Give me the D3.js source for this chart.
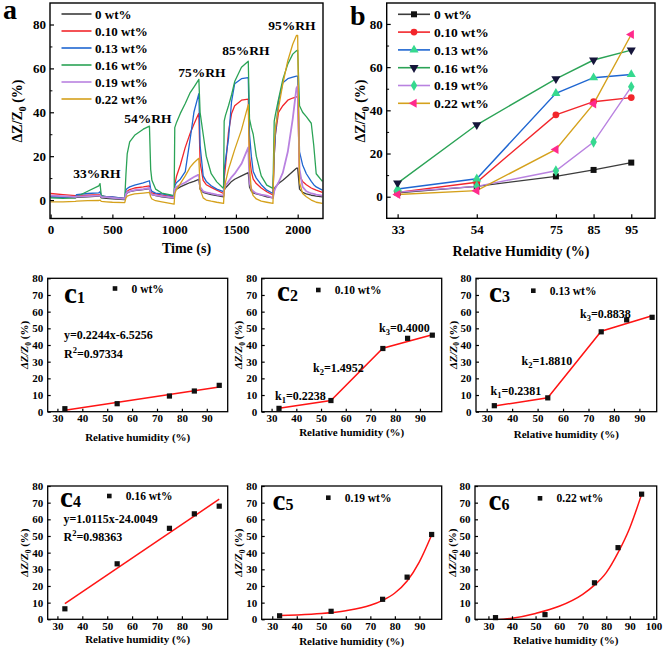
<!DOCTYPE html>
<html>
<head>
<meta charset="utf-8">
<script src="https://cdn.jsdelivr.net/npm/d3@7"></script>
<style>
  body { margin: 0; background: #fff; }
  svg text { font-family: "Liberation Serif", "Times New Roman", serif; font-weight: bold; fill: #000; }
</style>
</head>
<body>
<svg id="fig" width="666" height="648"></svg>
<script>
// ---------- data: panel a (time response) ----------
var timeS = [0,100,200,210,300,390,400,410,450,500,
  600,610,620,640,680,750,800,810,820,850,
  900,1000,1005,1020,1050,1090,1130,1160,1195,1200,
  1210,1235,1260,1300,1345,1400,1405,1415,1440,1465,
  1490,1545,1600,1610,1625,1640,1665,1705,1750,1800,
  1810,1820,1845,1880,1920,1960,1990,2000,2015,2040,
  2070,2110,2130,2150,2200];

var dz0 = [1.5,1.2,1.0,1.2,1.5,1.8,2.0,1.0,0.8,0.6,
  0.2,2.5,3.2,3.8,4.3,4.8,5.2,3.0,2.5,2.0,
  1.5,0.8,4.5,5.0,6.0,7.0,8.0,8.5,9.3,9.5,
  5.0,3.5,3.0,2.5,2.0,1.5,4.5,5.5,7.0,8.5,
  9.5,11.0,12.5,6.0,4.0,3.3,2.8,2.2,1.5,1.0,
  5.0,6.0,7.5,9.0,11.0,13.0,14.5,14.5,5.0,3.5,
  2.8,2.2,2.0,1.8,1.5];
var dz10 = [3.0,2.5,2.0,2.0,2.2,2.5,2.6,1.8,1.6,1.3,
  0.8,3.0,4.0,4.8,5.5,6.0,6.5,4.0,3.3,2.8,
  2.3,1.5,7.0,11.0,16.0,24.0,30.5,34.5,39.0,39.5,
  17.0,9.0,7.0,5.8,4.5,3.0,10.0,15.0,31.0,39.5,
  43.0,45.5,46.0,20.0,13.0,9.5,7.5,5.5,3.8,2.3,
  20.0,30.0,40.0,43.0,45.5,46.5,47.0,47.0,11.0,8.5,
  7.0,5.5,5.0,4.5,3.5];
var dz13 = [1.5,1.2,1.5,2.5,3.0,3.3,3.8,2.0,1.6,1.4,
  0.8,4.5,5.3,6.0,6.8,7.8,8.8,5.0,4.0,3.2,
  2.8,1.8,6.5,8.0,9.5,13.0,28.0,40.0,47.5,48.5,
  25.0,11.0,8.5,6.5,5.0,3.8,14.0,18.0,28.0,45.0,
  53.0,55.3,55.8,30.0,20.0,13.0,10.0,7.0,4.5,3.0,
  20.0,30.0,45.0,53.5,55.3,56.0,56.5,56.5,22.0,16.0,
  12.0,8.5,7.0,6.0,4.5];
var dz16 = [1.0,0.8,1.0,1.5,4.0,6.5,7.5,2.0,1.2,1.0,
  0.5,12.0,21.0,26.5,29.5,32.3,33.7,14.0,9.0,5.0,
  3.2,2.0,33.0,35.5,39.5,44.0,49.0,51.5,54.5,55.0,
  40.0,30.0,20.0,12.0,8.3,5.3,36.0,38.5,43.0,48.0,
  54.0,60.5,63.3,37.0,33.0,30.0,20.0,11.0,6.8,5.3,
  36.0,39.0,46.0,55.0,62.0,66.5,68.0,68.3,43.0,40.0,
  38.0,35.0,25.0,12.0,8.5];
var dz19 = [2.0,1.8,1.5,1.6,1.8,2.0,2.2,1.5,1.3,1.0,
  0.5,2.8,3.5,4.0,4.5,5.0,5.5,3.0,2.5,2.2,
  1.8,1.0,5.0,6.0,7.0,8.0,9.5,10.5,11.5,11.5,
  6.0,4.0,3.5,3.0,2.5,2.0,5.0,6.5,8.5,10.5,
  12.0,16.5,24.0,8.0,5.0,4.0,3.0,2.5,2.0,1.0,
  4.0,5.5,8.0,12.5,22.0,37.0,51.0,52.0,14.0,6.0,
  4.0,3.0,2.8,2.5,2.0];
var dz22 = [-0.8,-0.8,-0.6,-0.5,-0.3,-0.2,0.0,-0.6,-0.8,-1.0,
  -1.2,1.0,1.8,2.2,2.8,3.2,3.5,1.5,0.5,-0.3,
  -0.8,-1.8,3.0,5.0,7.5,11.0,15.0,17.0,18.8,19.0,
  5.0,1.0,0.0,-0.5,-1.0,-1.5,4.0,8.0,14.0,18.5,
  23.0,32.0,43.5,15.0,4.5,2.0,0.5,-0.5,-1.0,-1.5,
  25.0,33.0,42.0,53.0,63.5,71.0,75.0,75.0,8.0,3.0,
  1.5,0.0,-0.5,-1.0,-1.5];

var rhLabels = ["33%RH", "54%RH", "75%RH", "85%RH", "95%RH"];
var rhLabelT = [375, 788, 1225, 1581, 1953];
var rhLabelV = [10, 35, 56, 66, 77.4];

// ---------- data: panel b / c (response vs humidity) ----------
var seriesNames = ["0 wt%", "0.10 wt%", "0.13 wt%", "0.16 wt%", "0.19 wt%", "0.22 wt%"];
var rh = [33, 54, 75, 85, 95];
var s0  = [1.8, 4.8, 9.4, 12.4, 15.8];
var s10 = [2.0, 6.7, 37.9, 44.0, 45.9];
var s13 = [3.6, 8.3, 47.9, 55.1, 56.6];
var s16 = [6.3, 33.3, 54.6, 63.3, 67.9];
var s19 = [2.1, 4.8, 12.0, 25.3, 50.9];
var s22 = [1.0, 2.8, 21.9, 43.0, 75.1];

// fitted lines / curves as drawn in c1..c6
var fitLinX = [33, 95];
var fit0Y = [0.9, 14.8];
var fit16Y = [9.4, 72.1];
var fitSegX = [33, 54, 75, 95];
var fit10Y = [2.0, 6.7, 38.1, 46.1];
var fit13Y = [3.4, 8.4, 48.3, 57.5];
var fitExpX = [33, 40, 50, 60, 70, 75, 80, 85, 90, 95];
var fit19Y = [2.2, 2.6, 3.5, 5.2, 8.4, 11.4, 15.8, 23.0, 34.5, 50.6];
var fit22Y = [-0.4, 0.6, 3.5, 7.8, 15.0, 20.5, 28.0, 40.0, 55.0, 75.0];

var lineColors = ["#3c3c3c", "#f2262b", "#1f66d1", "#2ba356", "#b982e0", "#d5a11c"];
var markColors = ["#111", "#f2262b", "#36d98f", "#15153a", "#36d98f", "#ff2a8c"];
var markShapes = ["square", "circle", "up", "down", "diamond", "left"];

var svg = d3.select("#fig");
svg.append("rect").attr("width", 666).attr("height", 648).attr("fill", "#fff");

function sub(t, main, s, size) {
  t.append("tspan").text(main);
  t.append("tspan").text(s).style("font-size", (size * 0.68) + "px").attr("dy", size * 0.25);
}

function yLabel(x, y, size, italic) {
  var t = svg.append("text")
    .attr("transform", "translate(" + x + "," + y + ") rotate(-90)")
    .attr("text-anchor", "middle")
    .style("font-size", size + "px");
  t.append("tspan").text("ΔZ/Z").style("font-style", italic ? "italic" : "normal");
  t.append("tspan").text("0").style("font-size", (size * 0.68) + "px").attr("dy", size * 0.25);
  t.append("tspan").text(" (%)").attr("dy", -size * 0.25);
}

function axes(g, x, y, o) {
  var xr = x.range(), yr = y.range();
  var ax = g.append("g").attr("transform", "translate(0," + yr[0] + ")")
    .call(d3.axisBottom(x).tickValues(o.xMajor).tickSizeInner(-o.tick).tickSizeOuter(0)
      .tickPadding(o.xPad).tickFormat(d3.format("d")));
  ax.select(".domain").remove();
  ax.selectAll("line").attr("stroke-width", 1.2);
  ax.selectAll("text").style("font-size", o.font + "px");
  if (o.xMinor) {
    var mx = g.append("g").attr("transform", "translate(0," + yr[0] + ")")
      .call(d3.axisBottom(x).tickValues(o.xMinor).tickSizeInner(-o.tick * 0.6).tickSizeOuter(0).tickFormat(""));
    mx.select(".domain").remove();
  }
  var ay = g.append("g").attr("transform", "translate(" + xr[0] + ",0)")
    .call(d3.axisLeft(y).tickValues(o.yMajor).tickSizeInner(-o.tick).tickSizeOuter(0)
      .tickPadding(o.yPad).tickFormat(d3.format("d")));
  ay.select(".domain").remove();
  ay.selectAll("line").attr("stroke-width", 1.2);
  ay.selectAll("text").style("font-size", o.font + "px");
  if (o.yMinor) {
    var my = g.append("g").attr("transform", "translate(" + xr[0] + ",0)")
      .call(d3.axisLeft(y).tickValues(o.yMinor).tickSizeInner(-o.tick * 0.6).tickSizeOuter(0).tickFormat(""));
    my.select(".domain").remove();
  }
  g.append("rect").attr("x", xr[0]).attr("y", yr[1])
    .attr("width", xr[1] - xr[0]).attr("height", yr[0] - yr[1])
    .attr("fill", "none").attr("stroke", "#000").attr("stroke-width", o.frame);
}

function clip(id, x, y) {
  var xr = x.range(), yr = y.range();
  svg.append("clipPath").attr("id", id).append("rect")
    .attr("x", xr[0]).attr("y", yr[1]).attr("width", xr[1] - xr[0]).attr("height", yr[0] - yr[1]);
}

function symbolPath(shape, size) {
  var type = { square: d3.symbolSquare, circle: d3.symbolCircle, up: d3.symbolTriangle,
    down: d3.symbolTriangle, diamond: d3.symbolDiamond, left: d3.symbolTriangle }[shape];
  return d3.symbol().type(type).size(size)();
}
function symbolRot(shape) {
  return shape === "down" ? 180 : shape === "left" ? -90 : 0;
}

// ================= panel a =================
var xA = d3.scaleLinear().domain([-5, 2205]).range([50, 323]);
var yA = d3.scaleLinear().domain([-8.4, 89.8]).range([218.5, 3]);
clip("clipA", xA, yA);
var gA = svg.append("g");
var seriesA = [dz0, dz10, dz13, dz16, dz19, dz22];
seriesA.forEach(function(vals, i) {
  gA.append("path").datum(vals)
    .attr("clip-path", "url(#clipA)")
    .attr("fill", "none")
    .attr("stroke", lineColors[i])
    .attr("stroke-width", i === 4 ? 1.8 : 1.3)
    .attr("stroke-linejoin", "round")
    .attr("d", d3.line().x(function(d, j) { return xA(timeS[j]); }).y(function(d) { return yA(d); }));
});
axes(gA, xA, yA, { xMajor: [0, 500, 1000, 1500, 2000], xMinor: [250, 750, 1250, 1750],
  yMajor: [0, 20, 40, 60, 80], yMinor: [10, 30, 50, 70], tick: 4, xPad: 6, yPad: 4, font: 13, frame: 1.4 });

rhLabels.forEach(function(l, i) {
  gA.append("text").attr("x", xA(rhLabelT[i])).attr("y", yA(rhLabelV[i]))
    .attr("text-anchor", "middle").style("font-size", "13.5px").text(l);
});
seriesNames.forEach(function(n, i) {
  var yy = 14 + i * 17;
  gA.append("line").attr("x1", 61.5).attr("x2", 91.5).attr("y1", yy).attr("y2", yy)
    .attr("stroke", lineColors[i]).attr("stroke-width", 1.6);
  gA.append("text").attr("x", 95).attr("y", yy + 4.5).style("font-size", "13px").text(n);
});
svg.append("text").attr("x", 3).attr("y", 18.5).style("font-size", "28px").text("a");
yLabel(22, 111, 14, false);
svg.append("text").attr("x", 186.5).attr("y", 253).attr("text-anchor", "middle")
  .style("font-size", "14px").text("Time (s)");

// ================= panel b =================
var xB = d3.scaleLinear().domain([30.1, 101.3]).range([386.7, 655]);
var yB = d3.scaleLinear().domain([-10, 89.7]).range([218.3, 3]);
var gB = svg.append("g");
var seriesB = [s0, s10, s13, s16, s19, s22];
seriesB.forEach(function(vals, i) {
  gB.append("path").datum(vals)
    .attr("fill", "none").attr("stroke", lineColors[i]).attr("stroke-width", 1.4)
    .attr("d", d3.line().x(function(d, j) { return xB(rh[j]); }).y(function(d) { return yB(d); }));
});
seriesB.forEach(function(vals, i) {
  gB.selectAll(null).data(vals).enter().append("path")
    .attr("transform", function(d, j) {
      return "translate(" + xB(rh[j]) + "," + yB(d) + ") rotate(" + symbolRot(markShapes[i]) + ")";
    })
    .attr("d", symbolPath(markShapes[i], 36))
    .attr("fill", markColors[i]);
});
axes(gB, xB, yB, { xMajor: rh, yMajor: [0, 20, 40, 60, 80], yMinor: [10, 30, 50, 70],
  tick: 4, xPad: 6, yPad: 4, font: 13, frame: 1.4 });
seriesNames.forEach(function(n, i) {
  var yy = 14.3 + i * 17.8;
  gB.append("line").attr("x1", 398).attr("x2", 430).attr("y1", yy).attr("y2", yy)
    .attr("stroke", lineColors[i]).attr("stroke-width", 1.6);
  gB.append("path").attr("transform", "translate(414," + yy + ") rotate(" + symbolRot(markShapes[i]) + ")")
    .attr("d", symbolPath(markShapes[i], 36)).attr("fill", markColors[i]);
  gB.append("text").attr("x", 434).attr("y", yy + 4.8).style("font-size", "13.5px").text(n);
});
svg.append("text").attr("x", 350).attr("y", 25).style("font-size", "28px").text("b");
yLabel(365, 111, 14, false);
svg.append("text").attr("x", 521).attr("y", 256).attr("text-anchor", "middle")
  .style("font-size", "14px").text("Relative Humidity (%)");

// ================= panels c1..c6 =================
var cPanels = [
  { tag: "1", vals: s0,  fitX: fitLinX, fitY: fit0Y,  curve: false, left: 47.7,  right: 227.7, top: 278.3, bottom: 411.7,
    xDom: [26.1, 98.4], xTicks: [30, 40, 50, 60, 70, 80, 90], lab: [64, 303], leg: [115, 288.5], xl: 440.5 },
  { tag: "2", vals: s10, fitX: fitSegX, fitY: fit10Y, curve: false, left: 261.7, right: 441.7, top: 278.3, bottom: 411.7,
    xDom: [26.0, 98.8], xTicks: [30, 40, 50, 60, 70, 80, 90], lab: [277, 301], leg: [318.3, 290], xl: 436 },
  { tag: "3", vals: s13, fitX: fitSegX, fitY: fit13Y, curve: false, left: 476, right: 656.7, top: 278.3, bottom: 411.7,
    xDom: [25.8, 96.8], xTicks: [30, 40, 50, 60, 70, 80, 90], lab: [489, 302], leg: [533.3, 290.7], xl: 438 },
  { tag: "4", vals: s16, fitX: fitLinX, fitY: fit16Y, curve: false, left: 47.7, right: 227.7, top: 486, bottom: 619.3,
    xDom: [26.1, 98.4], xTicks: [30, 40, 50, 60, 70, 80, 90], lab: [60, 507], leg: [109.3, 496], xl: 643 },
  { tag: "5", vals: s19, fitX: fitExpX, fitY: fit19Y, curve: true, left: 261.7, right: 441.7, top: 486, bottom: 619.3,
    xDom: [25.7, 99.1], xTicks: [30, 40, 50, 60, 70, 80, 90], lab: [272.5, 509.5], leg: [328.3, 497.7], xl: 644.5 },
  { tag: "6", vals: s22, fitX: fitExpX, fitY: fit22Y, curve: true, left: 475, right: 656.7, top: 486, bottom: 619.3,
    xDom: [24.3, 101.4], xTicks: [30, 40, 50, 60, 70, 80, 90, 100], lab: [488.5, 509.5], leg: [540, 498.3], xl: 644 }
];

cPanels.forEach(function(p, k) {
  var x = d3.scaleLinear().domain(p.xDom).range([p.left, p.right]);
  var y = d3.scaleLinear().domain([0, 80]).range([p.bottom, p.top]);
  var g = svg.append("g");
  clip("clipC" + k, x, y);
  g.append("path").datum(p.fitY)
    .attr("clip-path", "url(#clipC" + k + ")")
    .attr("fill", "none").attr("stroke", "#ff1414").attr("stroke-width", 1.5)
    .attr("d", d3.line().curve(p.curve ? d3.curveMonotoneX : d3.curveLinear)
      .x(function(d, j) { return x(p.fitX[j]); }).y(function(d) { return y(d); }));
  g.selectAll(null).data(p.vals).enter().append("rect")
    .attr("x", function(d, j) { return x(rh[j]) - 2.6; })
    .attr("y", function(d) { return y(d) - 2.6; })
    .attr("width", 5.2).attr("height", 5.2).attr("fill", "#111");
  axes(g, x, y, { xMajor: p.xTicks, yMajor: [0, 10, 20, 30, 40, 50, 60, 70, 80],
    tick: 3, xPad: 3, yPad: 4.5, font: 11, frame: 1.3 });
  var t = svg.append("text").attr("x", p.lab[0]).attr("y", p.lab[1]);
  t.append("tspan").text("c").style("font-size", "29px");
  t.append("tspan").text(p.tag).style("font-size", "16px");
  g.append("rect").attr("x", p.leg[0] - 2.3).attr("y", p.leg[1] - 2.3).attr("width", 4.6).attr("height", 4.6).attr("fill", "#111");
  g.append("text").attr("x", p.leg[0] + 16.5).attr("y", p.leg[1] + 4).style("font-size", "11.5px").text(seriesNames[k]);
  yLabel(p.left - 19.5, (p.top + p.bottom) / 2, 11, true);
  svg.append("text").attr("x", (p.left + p.right) / 2).attr("y", p.xl).attr("text-anchor", "middle")
    .style("font-size", "11px").text("Relative humidity (%)");
});

// annotations on the fits
function eqText(x, y, str) {
  svg.append("text").attr("x", x).attr("y", y).style("font-size", "12px").text(str);
}
function rText(x, y, main, sup, rest) {
  var t = svg.append("text").attr("x", x).attr("y", y).style("font-size", "12px");
  t.append("tspan").text(main);
  t.append("tspan").text(sup).style("font-size", "8.5px").attr("dy", -5);
  t.append("tspan").text(rest).attr("dy", 5);
}
function kText(x, y, s, rest) {
  var t = svg.append("text").attr("x", x).attr("y", y).style("font-size", "12px");
  t.append("tspan").text("k");
  t.append("tspan").text(s).style("font-size", "8.5px").attr("dy", 3);
  t.append("tspan").text(rest).attr("dy", -3);
}
eqText(64, 339, "y=0.2244x-6.5256");
rText(64, 357.5, "R", "2", "=0.97334");
kText(379, 332, "3", "=0.4000");
kText(313, 372, "2", "=1.4952");
kText(275, 400, "1", "=0.2238");
kText(580, 318, "3", "=0.8838");
kText(521.5, 365, "2", "=1.8810");
kText(490.5, 395, "1", "=0.2381");
eqText(63.5, 523, "y=1.0115x-24.0049");
rText(63.5, 541, "R", "2", "=0.98363");
</script>
</body>
</html>
